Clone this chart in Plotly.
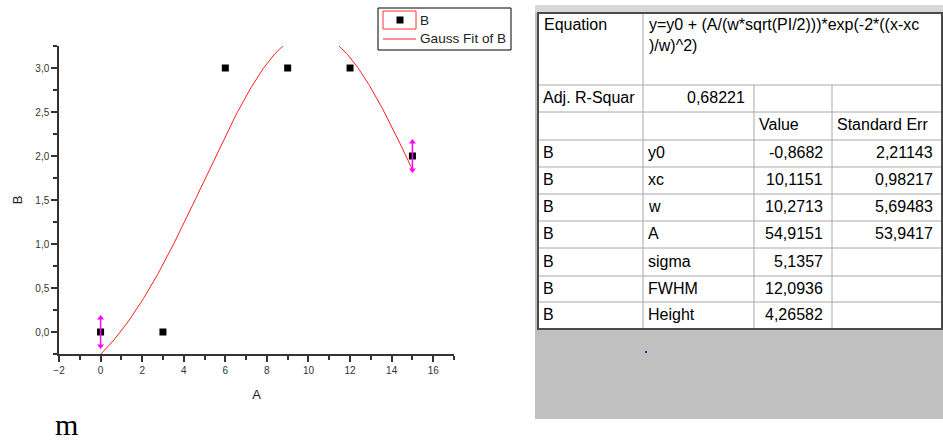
import numpy as np
import plotly.graph_objects as go

W, H = 943, 441

# ---- measured points ----
a_vals = [0, 3, 6, 9, 12, 15]
b_vals = [0, 0, 3, 3, 3, 2]

# points carrying the magenta up/down arrows
arrow_a = [0, 15]
arrow_b = [0, 2]
arrow_half = [0.16, 0.16]

# ---- Gauss fit parameters (as reported in the table) ----
fit_y0 = -0.8682
fit_xc = 10.1151
fit_w = 10.2713
fit_A = 54.9151
fit_range = [0, 15]

# ---- fit report table ----
eq_label = "Equation"
eq_text = "y=y0 + (A/(w*sqrt(PI/2)))*exp(-2*((x-xc<br>)/w)^2)"
adj_row = ["Adj. R-Squar", "0,68221", "", ""]
head_row = ["", "", "Value", "Standard Err"]
col_dataset = ["B", "B", "B", "B", "B", "B", "B"]
col_param = ["y0", "xc", "w", "A", "sigma", "FWHM", "Height"]
col_value = ["-0,8682", "10,1151", "10,2713", "54,9151", "5,1357", "12,0936", "4,26582"]
col_stderr = ["2,21143", "0,98217", "5,69483", "53,9417", "", "", ""]

# legend entries
legend_names = ["B", "Gauss Fit of B"]

# axis ticks
x_ticks = [-2, 0, 2, 4, 6, 8, 10, 12, 14, 16]
y_ticks = [0.0, 0.5, 1.0, 1.5, 2.0, 2.5, 3.0]

SANS = "Liberation Sans, Arial, sans-serif"


def px(x):
    return x / W


def py(y):
    return 1 - y / H


fit_x = np.linspace(fit_range[0], fit_range[1], 401)
fit_y = fit_y0 + fit_A / (fit_w * np.sqrt(np.pi / 2)) * np.exp(-2 * ((fit_x - fit_xc) / fit_w) ** 2)

fig = go.Figure()

fig.add_trace(go.Scatter(
    x=a_vals, y=b_vals, mode="markers", name=legend_names[0], showlegend=False,
    marker=dict(symbol="square", size=7, color="black"),
))
fig.add_trace(go.Scatter(
    x=fit_x, y=fit_y, mode="lines", name=legend_names[1], showlegend=False,
    line=dict(color="#ff2020", width=1),
))
# magenta vertical arrows
fig.add_trace(go.Scatter(
    x=arrow_a, y=arrow_b, mode="markers", showlegend=False,
    marker=dict(size=0.1, color="rgba(0,0,0,0)"),
    error_y=dict(type="data", array=arrow_half, color="#ff00ff", thickness=1.5, width=0),
))
fig.add_trace(go.Scatter(
    x=arrow_a, y=[b + h for b, h in zip(arrow_b, arrow_half)], mode="markers", showlegend=False,
    marker=dict(symbol="triangle-up", size=6, color="#ff00ff"),
))
fig.add_trace(go.Scatter(
    x=arrow_a, y=[b - h for b, h in zip(arrow_b, arrow_half)], mode="markers", showlegend=False,
    marker=dict(symbol="triangle-down", size=6, color="#ff00ff"),
))


def pline(x0, y0, x1, y1, color, width):
    return dict(type="line", xref="paper", yref="paper", x0=px(x0), y0=py(y0), x1=px(x1), y1=py(y1),
                line=dict(color=color, width=width), layer="above")


def prect(x0, y0, x1, y1, fill=None, color=None, width=0, layer="above"):
    d = dict(type="rect", xref="paper", yref="paper", x0=px(x0), x1=px(x1), y0=py(y1), y1=py(y0),
             line=dict(width=width, color=color or "rgba(0,0,0,0)"), layer=layer)
    if fill:
        d["fillcolor"] = fill
    return d


def ptext(text, x, y, xanchor="left", yanchor="middle", size=16, color="black", family=SANS):
    return dict(text=text, xref="paper", yref="paper", x=px(x), y=py(y), xanchor=xanchor, yanchor=yanchor,
                align="left", showarrow=False, font=dict(family=family, size=size, color=color))


shapes = []
annotations = []

# ---- report table layout ----
col_edges = [538, 643, 754, 832, 942]
row_edges = [13, 85, 112, 140, 167, 194, 221, 248, 276, 302, 329]
grid_col = "#a8a8a8"

shapes.append(prect(535, 5, 943, 419, fill="#c0c0c0", layer="below"))
shapes.append(prect(535, 5, 943, 13, fill="#d8d8d8", layer="below"))
shapes.append(prect(538, 13, 942, 329, fill="white", layer="below"))
for y in row_edges[1:-1]:
    shapes.append(pline(col_edges[0], y, col_edges[-1], y, grid_col, 1))
shapes.append(pline(col_edges[1], row_edges[0], col_edges[1], row_edges[-1], grid_col, 1))
for x in col_edges[2:-1]:
    shapes.append(pline(x, row_edges[1], x, row_edges[-1], grid_col, 1))
shapes.append(prect(538, 13, 942, 329, color="#4a4a4a", width=2))

annotations.append(ptext(eq_label, col_edges[0] + 4, row_edges[0] + 1, yanchor="top"))
annotations.append(ptext(eq_text, col_edges[1] + 4, row_edges[0] + 1, yanchor="top"))

body_rows = [adj_row, head_row] + [list(r) for r in zip(col_dataset, col_param, col_value, col_stderr)]
body_align = [["left", "right", "left", "left"], ["left"] * 4] + [["left", "left", "right", "right"]] * len(col_param)
for i, (row, al) in enumerate(zip(body_rows, body_align)):
    yc = (row_edges[i + 1] + row_edges[i + 2]) / 2 - 1
    for j, (txt, a) in enumerate(zip(row, al)):
        if not txt:
            continue
        if a == "left":
            annotations.append(ptext(txt, col_edges[j] + 3, yc, xanchor="left"))
        else:
            annotations.append(ptext(txt, col_edges[j + 1] - 7, yc, xanchor="right"))

# small dot in the grey area
shapes.append(prect(645, 351, 647, 353, fill="#3030d0"))

# ---- legend ----
shapes.append(prect(378, 8, 511, 50, color="black", width=1))
shapes.append(prect(383, 11, 416, 29, color="#ff3030", width=1))
shapes.append(prect(396.5, 16.5, 403.5, 23.5, fill="black"))
shapes.append(pline(383, 39, 416, 39, "#ff2020", 1))
annotations.append(ptext(legend_names[0], 418, 20, size=13.6, color="#222222"))
annotations.append(ptext(legend_names[1], 418, 39, size=13.6, color="#222222"))

# stray glyph under the chart
annotations.append(ptext("m", 53, 406, yanchor="top", size=30,
                         family="Liberation Serif, Times New Roman, serif"))

axis_common = dict(
    showline=True, linecolor="#333333", linewidth=1.5, mirror=False,
    ticks="outside", ticklen=6, tickwidth=1.5, tickcolor="#333333",
    showgrid=False, zeroline=False, automargin=False,
    tickfont=dict(family=SANS, size=10, color="#333333"),
)

fig.update_layout(
    width=W, height=H,
    margin=dict(l=0, r=0, t=0, b=0, autoexpand=False),
    paper_bgcolor="white", plot_bgcolor="white",
    separators=",.",
    showlegend=False,
    xaxis=dict(domain=[px(59), px(454)], range=[-2, 17], tickvals=x_ticks,
               minor=dict(dtick=1, tick0=-2, ticklen=4, tickwidth=1.5, tickcolor="#333333", ticks="outside"),
               title=dict(text="A", standoff=15, font=dict(family=SANS, size=13, color="#222222")),
               **axis_common),
    yaxis=dict(domain=[py(354), py(46)], range=[-0.25, 3.25], tickvals=y_ticks, tickformat=".1f",
               minor=dict(dtick=0.25, tick0=-0.25, ticklen=4, tickwidth=1.5, tickcolor="#333333", ticks="outside"),
               title=dict(text="B", standoff=10, font=dict(family=SANS, size=13, color="#222222")),
               **axis_common),
    shapes=shapes,
    annotations=annotations,
)

fig.write_html("out.html")
